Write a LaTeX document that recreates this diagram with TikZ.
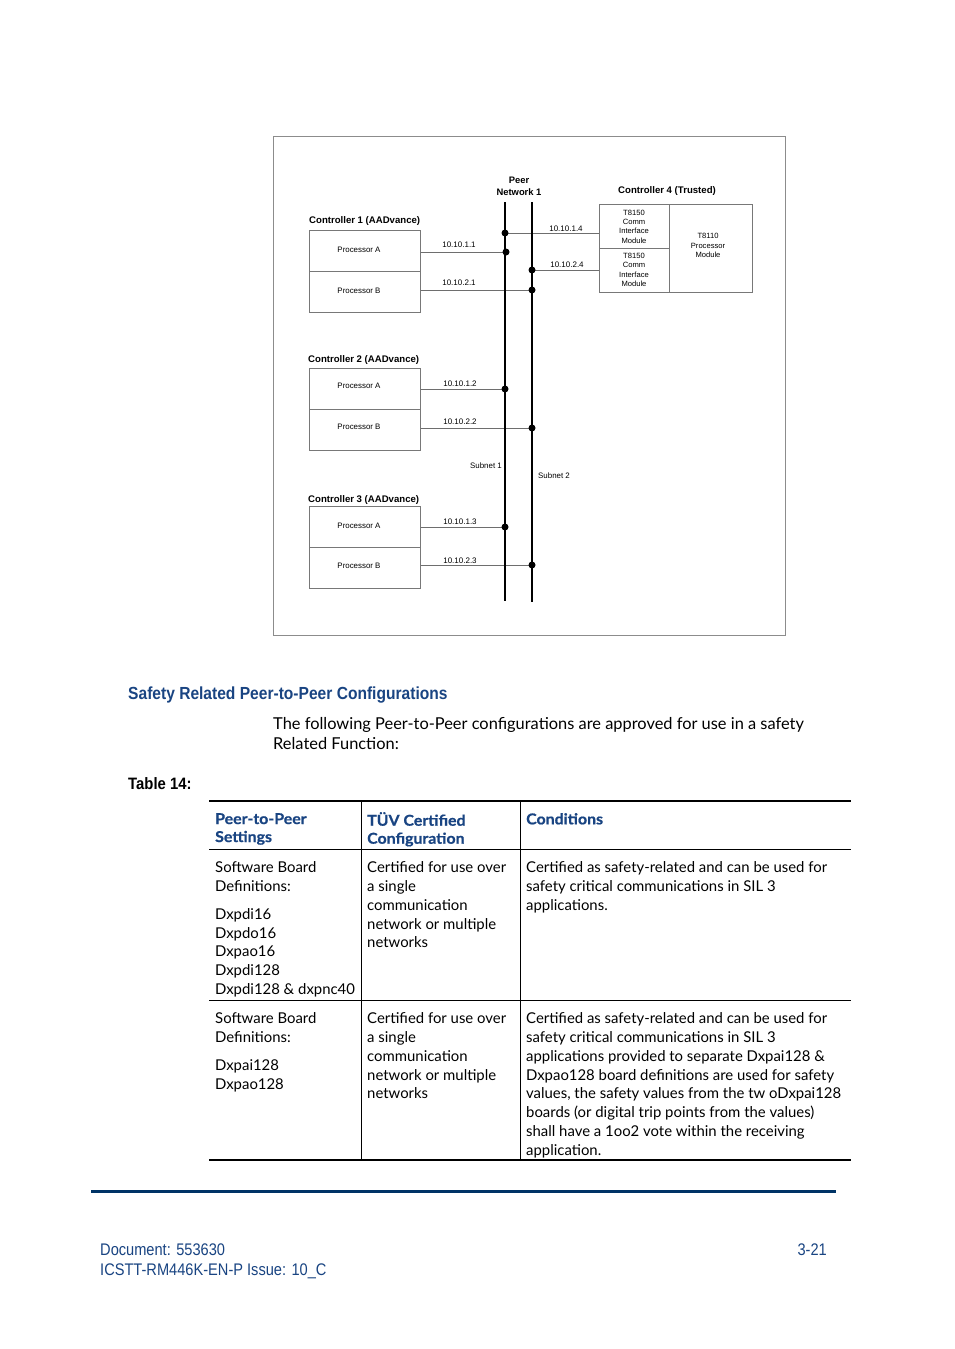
\documentclass[tikz,border=0pt]{standalone}
\usepackage{fontspec}
\setmainfont{Lato}
\newfontfamily\arial{Liberation Sans}
\newfontfamily\condh[FakeStretch=0.89]{Liberation Sans}
\newfontfamily\condf[FakeStretch=0.9]{Liberation Sans}
\newfontfamily\condg[FakeStretch=0.87]{Liberation Sans}
\newfontfamily\hb[FakeBold=0.7,FakeStretch=1.06]{Lato}
\definecolor{hblue}{RGB}{25,68,130}
\definecolor{navy}{RGB}{0,51,102}
\definecolor{boxgray}{RGB}{120,120,120}
\definecolor{linkgray}{RGB}{110,110,110}
\definecolor{framegray}{RGB}{140,140,140}
\begin{document}
\begin{tikzpicture}[x=1pt,y=-1pt,
  lbl/.style={font=\arial\fontsize{7.9}{9}\selectfont, inner sep=0},
  ip/.style={font=\arial\fontsize{8}{9}\selectfont, inner sep=0},
  small/.style={font=\arial\fontsize{7.6}{9.4}\selectfont, inner sep=0, align=center},
  ctl/.style={font=\arial\bfseries\fontsize{9.6}{11}\selectfont, inner sep=0, anchor=west},
  proc/.style={draw=boxgray, line width=0.8pt, minimum width=111pt, minimum height=41pt, inner sep=0, anchor=north west},
  bus/.style={line width=1.9pt},
  link/.style={draw=linkgray, line width=0.9pt},
  dot/.style={circle, fill=black, inner sep=0, minimum size=7pt},
  body/.style={font=\fontsize{14.9}{18.8}\selectfont, inner sep=0, anchor=north west, align=left},
  head/.style={font=\hb\bfseries\fontsize{15}{18}\selectfont, text=hblue, inner sep=0, anchor=north west, align=left},
  foot/.style={font=\condg\fontsize{16.8}{21}\selectfont, text=hblue, inner sep=0, anchor=west}]
\useasboundingbox (0,0) rectangle (954,1349);
\fill[white] (0,0) rectangle (954,1349);

% ---------- diagram frame ----------
\node[draw=framegray, line width=0.8pt, minimum width=512pt, minimum height=499pt, inner sep=0, anchor=north west] (frame) at (273,136) {};

% ---------- controllers 1-3 ----------
\node[ctl] (c1l) at (309,221.5) {Controller 1 (AADvance)};
\node[proc] (c1a) at (309,230) {};
\node[proc] (c1b) at (309,271) {};
\node[lbl] (c1at) at (359,249.5) {Processor A};
\node[lbl] (c1bt) at (359,290.5) {Processor B};

\node[ctl] (c2l) at (308,360.5) {Controller 2 (AADvance)};
\node[proc] (c2a) at (309,368) {};
\node[proc] (c2b) at (309,409) {};
\node[lbl] (c2at) at (359,385.5) {Processor A};
\node[lbl] (c2bt) at (359,426.5) {Processor B};

\node[ctl] (c3l) at (308,500.5) {Controller 3 (AADvance)};
\node[proc] (c3a) at (309,506) {};
\node[proc] (c3b) at (309,547) {};
\node[lbl] (c3at) at (359,525.5) {Processor A};
\node[lbl] (c3bt) at (359,565.5) {Processor B};

% ---------- controller 4 ----------
\node[ctl, anchor=center] (c4l) at (667,191.5) {Controller 4 (Trusted)};
\node[draw=boxgray, line width=0.8pt, minimum width=70pt, minimum height=44pt, inner sep=0, anchor=north west] (c4t) at (599,204) {};
\node[draw=boxgray, line width=0.8pt, minimum width=70pt, minimum height=44pt, inner sep=0, anchor=north west] (c4b) at (599,248) {};
\node[draw=boxgray, line width=0.8pt, minimum width=83pt, minimum height=88pt, inner sep=0, anchor=north west] (c4p) at (669,204) {};
\node[small] (c4tt) at (634,226.5) {T8150\\Comm\\Interface\\Module};
\node[small] (c4bt) at (634,270) {T8150\\Comm\\Interface\\Module};
\node[small] (c4pt) at (708,245.5) {T8110\\Processor\\Module};

% ---------- bus ----------
\node[font=\arial\bfseries\fontsize{9.4}{11.5}\selectfont, align=center, inner sep=0] (pn) at (519,186.5) {Peer\\Network 1};
\coordinate (s1t) at (505,202);
\coordinate (s1b) at (505,601);
\coordinate (s2t) at (532,202);
\coordinate (s2b) at (532,602);

\coordinate (d14) at (505,233);
\coordinate (d11) at (506,252);
\coordinate (d24) at (532,270);
\coordinate (d21) at (532,290);
\coordinate (d12) at (505,389);
\coordinate (d22) at (532,428);
\coordinate (d13) at (505,527);
\coordinate (d23) at (532,565);

\draw[link] (c1a.east |- d11) -- (d11);
\draw[link] (c1b.east |- d21) -- (d21);
\draw[link] (c2a.east |- d12) -- (d12);
\draw[link] (c2b.east |- d22) -- (d22);
\draw[link] (c3a.east |- d13) -- (d13);
\draw[link] (c3b.east |- d23) -- (d23);
\draw[link] (d14) -- (c4t.west |- d14);
\draw[link] (d24) -- (c4b.west |- d24);

\draw[bus] (s1t) -- (s1b);
\draw[bus] (s2t) -- (s2b);

\foreach \d in {d14,d11,d24,d21,d12,d22,d13,d23} \node[dot] at (\d) {};

\node[ip] (ip11) at (459,244.5) {10.10.1.1};
\node[ip] (ip21) at (459,282.5) {10.10.2.1};
\node[ip] (ip14) at (566,228.5) {10.10.1.4};
\node[ip] (ip24) at (567,264.5) {10.10.2.4};
\node[ip] (ip12) at (460,383.5) {10.10.1.2};
\node[ip] (ip22) at (460,421.5) {10.10.2.2};
\node[ip] (ip13) at (460,521.5) {10.10.1.3};
\node[ip] (ip23) at (460,560.5) {10.10.2.3};
\node[lbl, anchor=east] (sub1) at (502,465.5) {Subnet 1};
\node[lbl, anchor=west] (sub2) at (538,475.5) {Subnet 2};

% ---------- heading and paragraph ----------
\node[font=\condh\bfseries\fontsize{17.5}{20}\selectfont, text=hblue, inner sep=0, anchor=west] (h1) at (128,695) {Safety Related Peer-to-Peer Configurations};
\node[font=\fontsize{16.4}{20}\selectfont, inner sep=0, anchor=north west, align=left] (para) at (273,717.5) {The following Peer-to-Peer configurations are approved for use in a safety\\Related Function:};
\node[font=\condf\bfseries\fontsize{16.5}{18}\selectfont, inner sep=0, anchor=west] (tab) at (128,784) {Table 14:};

% ---------- table ----------
\draw[line width=1.6pt] (209,801) -- (851,801);
\draw[line width=0.8pt] (209,849) -- (851,849);
\draw[line width=0.8pt] (209,1000) -- (851,1000);
\draw[line width=1.6pt] (209,1160) -- (851,1160);
\draw[line width=0.8pt] (361,801) -- (361,1160);
\draw[line width=0.8pt] (520,801) -- (520,1160);

\node[head] (h11) at (215,813) {Peer-to-Peer\\Settings};
\node[head] (h12) at (367,812) {TÜV Certified\\Configuration};
\node[head] (h13) at (526,813) {Conditions};

\node[body] (r11) at (215,861.5) {Software Board\\Definitions:\\[9pt]Dxpdi16\\Dxpdo16\\Dxpao16\\Dxpdi128\\Dxpdi128 \& dxpnc40};
\node[body] (r12) at (367,861.5) {Certified for use over\\a single\\communication\\network or multiple\\networks};
\node[body] (r13) at (526,861.5) {Certified as safety-related and can be used for\\safety critical communications in SIL 3\\applications.};

\node[body] (r21) at (215,1012.5) {Software Board\\Definitions:\\[9pt]Dxpai128\\Dxpao128};
\node[body] (r22) at (367,1012.5) {Certified for use over\\a single\\communication\\network or multiple\\networks};
\node[body] (r23) at (526,1012.5) {Certified as safety-related and can be used for\\safety critical communications in SIL 3\\applications provided to separate Dxpai128 \&\\Dxpao128 board definitions are used for safety\\values, the safety values from the tw oDxpai128\\boards (or digital trip points from the values)\\shall have a 1oo2 vote within the receiving\\application.};

% ---------- footer ----------
\draw[navy, line width=3pt] (91,1191) -- (836,1191);
\node[foot] (f1) at (100,1250) {Document: 553630};
\node[foot] (f2) at (100,1271) {ICSTT-RM446K-EN-P Issue: 10\_C};
\node[foot, anchor=east] (f3) at (827,1250) {3-21};
\end{tikzpicture}
\end{document}
